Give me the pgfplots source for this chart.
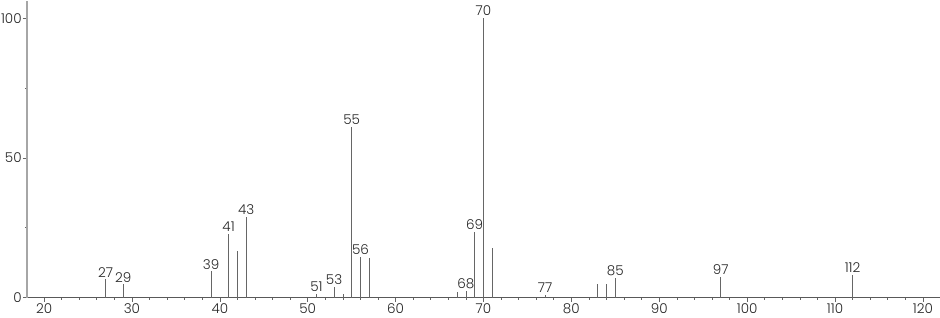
\documentclass[border={0pt 2pt 0pt 0pt}]{standalone}
\usepackage{pgfplots}
\pgfplotsset{compat=1.18}
\usepackage{fontspec}
\setmainfont{Poppins Light}
\begin{document}
\begin{tikzpicture}
\begin{axis}[
  scale only axis, width=907bp, height=295bp,
  xmin=18.1, xmax=121.9, ymin=0, ymax=106.2,
  axis lines*=left,
  x axis line style={color=black!65, line width=0.8pt},
  y axis line style={color=black!35, line width=1.8pt},
  xtick={20,30,...,120}, minor x tick num=4,
  ytick={0,50,100}, minor y tick num=1,
  tick align=outside,
  major tick length=4.5bp, minor tick length=2bp,
  every tick/.style={color=black!60, line width=0.6pt},
  tick label style={font=\fontsize{13.5}{14}\selectfont, text=black!85},
  xticklabel style={inner sep=1.5bp},
  yticklabel style={inner sep=1bp},
  /pgf/number format/assume math mode=true,
  clip=false,
]
\addplot[ycomb, color=black!60, line width=0.7pt, mark=none] coordinates {
(27,6.5) (29,4.7) (39,9.4) (41,22.8) (42,16.6) (43,28.8) (51,1.4)
(53,3.8) (54,1.4) (55,61.0) (56,14.7) (57,14.1) (67,2.0) (68,2.3)
(69,23.4) (70,100) (71,17.7) (77,1.1) (83,4.7) (84,5.0) (85,7.0)
(97,7.3) (112,8.1)
};
\addplot[draw=none, mark=none, nodes near coords, point meta=explicit symbolic,
  nodes near coords style={font=\fontsize{13.5}{14}\selectfont, text=black!85, anchor=south, inner sep=2bp}]
coordinates {
(27,6.5)[27] (29,4.7)[29] (39,9.4)[39] (41,22.8)[41] (43,28.8)[43] (51,1.4)[51]
(53,3.8)[53] (55,61.0)[55] (56,14.7)[56] (68,2.3)[68] (69,23.4)[69] (70,100)[70]
(77,1.1)[77] (85,7.0)[85] (97,7.3)[97] (112,8.1)[112]
};
\end{axis}
\end{tikzpicture}
\end{document}
